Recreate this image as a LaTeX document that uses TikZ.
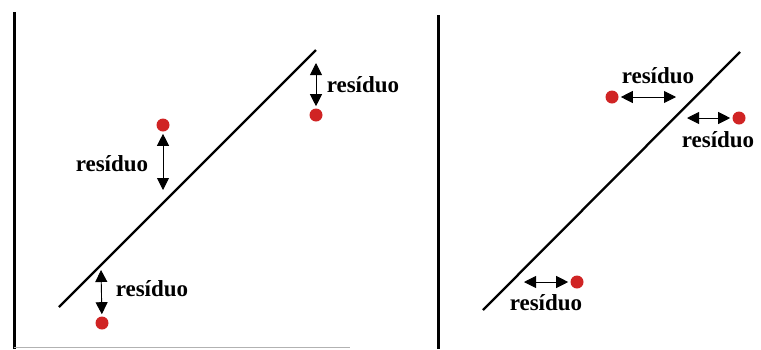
\documentclass[tikz,border=0pt]{standalone}
\usepackage{fontspec}
\setmainfont{Liberation Serif}
\usetikzlibrary{arrows.meta,positioning}

\definecolor{dotred}{RGB}{208,36,36}

\begin{document}
\begin{tikzpicture}[
    x = 1pt, y = -1pt, %
    > = {Triangle[length=12pt,width=12pt]}, %
    semithick %
    ]

    \tikzset{
    point/.style = {circle, fill = dotred, inner sep = 0pt, minimum size = 13pt},
    residue/.style = {<->, line width = 0.9pt, shorten < = 2pt, shorten > = 2pt},
    lbl/.style = {font = \fontsize{23}{25}\selectfont\bfseries, inner sep = 0pt},
    axis/.style = {line width = 3pt},
    fit line/.style = {line width = 2.3pt}
    }

    \useasboundingbox (0,0) rectangle (761,349);

    % left panel
    \coordinate (ya) at (14,12);
    \coordinate (yb) at (14,349);
    \coordinate (xa) at (14,347);
    \coordinate (xb) at (350,347);
    \draw[axis] (ya) -- (yb);
    \draw[gray!60, line width = 1pt] (xa) -- (xb);

    \coordinate (la) at (59,307);
    \coordinate (lb) at (316,50);
    \draw[fit line] (la) -- (lb);

    \node[point] (p1) at (316,115) {};
    \node[point] (p2) at (163,125) {};
    \node[point] (p3) at (102,323) {};

    \coordinate (r1) at (316,61);
    \coordinate (r2) at (163,192);
    \coordinate (r3) at (101,268);

    \draw[residue] (r1) -- (p1);
    \draw[residue] (p2) -- (r2);
    \draw[residue] (r3) -- (p3);

    \node[lbl] (t1) at (363,85)  {resíduo};
    \node[lbl] (t2) at (112,164) {resíduo};
    \node[lbl] (t3) at (152,289) {resíduo};

    % right panel
    \coordinate (ya') at (438,15);
    \coordinate (yb') at (438,349);
    \draw[axis] (ya') -- (yb');

    \coordinate (la') at (483,310);
    \coordinate (lb') at (740,52);
    \draw[fit line] (la') -- (lb');

    \node[point] (p4) at (612,97)  {};
    \node[point] (p5) at (739,118) {};
    \node[point] (p6) at (577,282) {};

    \coordinate (r4) at (678,97);
    \coordinate (r5) at (685,118);
    \coordinate (r6) at (522,282);

    \draw[residue] (p4) -- (r4);
    \draw[residue] (r5) -- (p5);
    \draw[residue] (r6) -- (p6);

    \node[lbl] (t4) at (658,76)  {resíduo};
    \node[lbl] (t5) at (718,140) {resíduo};
    \node[lbl] (t6) at (546,303) {resíduo};

\end{tikzpicture}
\end{document}
